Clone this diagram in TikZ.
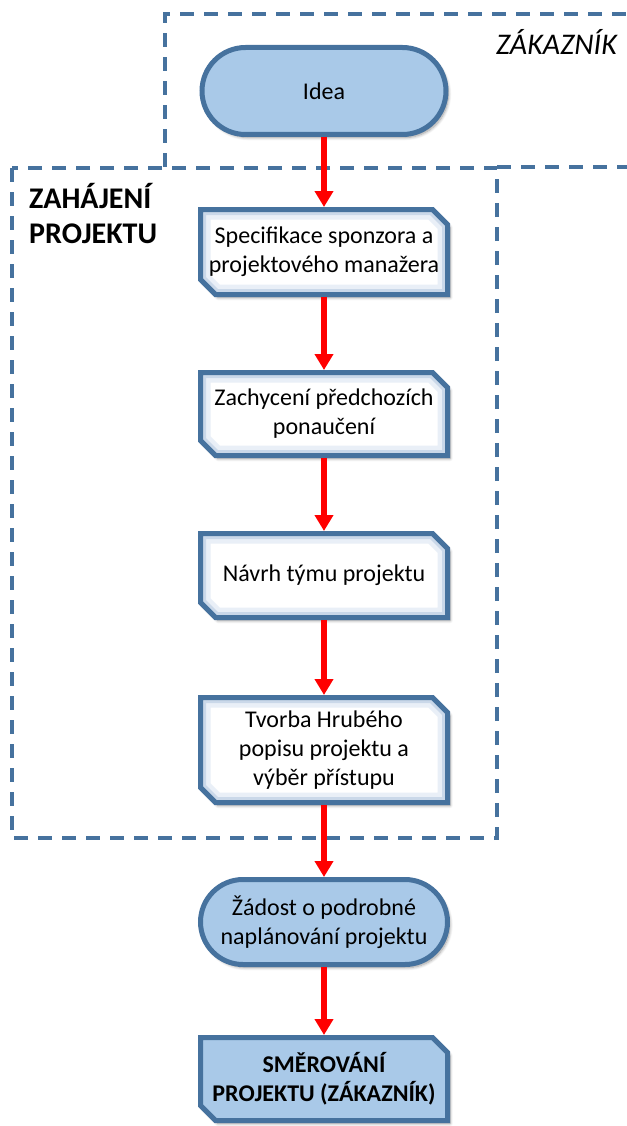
\documentclass[tikz,border=0pt]{standalone}
\usepackage{fontspec}
\setmainfont{Carlito}
\usetikzlibrary{shapes.misc, arrows.meta, shadows.blur}

\definecolor{edgeblue}{HTML}{46729E}
\definecolor{fillblue}{HTML}{A9C9E8}
\definecolor{glowblue}{HTML}{CAD8E9}
\definecolor{glowpale}{HTML}{E9EFF7}
\definecolor{flowred}{HTML}{FF0000}

% rectangle with the north east and south west corners cut off
\makeatletter
\pgfkeys{/pgf/cut size/.initial=15pt}
\newdimen\cutxa \newdimen\cutya \newdimen\cutxb \newdimen\cutyb \newdimen\cutlen
\pgfdeclareshape{cutcorner}{%
  \inheritsavedanchors[from=rectangle]%
  \inheritanchorborder[from=rectangle]%
  \inheritanchor[from=rectangle]{center}%
  \inheritanchor[from=rectangle]{north}%
  \inheritanchor[from=rectangle]{south}%
  \inheritanchor[from=rectangle]{east}%
  \inheritanchor[from=rectangle]{west}%
  \inheritanchor[from=rectangle]{north east}%
  \inheritanchor[from=rectangle]{north west}%
  \inheritanchor[from=rectangle]{south east}%
  \inheritanchor[from=rectangle]{south west}%
  \inheritanchor[from=rectangle]{base}%
  \inheritanchor[from=rectangle]{mid}%
  \backgroundpath{%
    \southwest \cutxa=\pgf@x \cutya=\pgf@y
    \northeast \cutxb=\pgf@x \cutyb=\pgf@y
    \pgfmathsetlength\pgf@xc{\pgfkeysvalueof{/pgf/outer xsep}}%
    \pgfmathsetlength\pgf@yc{\pgfkeysvalueof{/pgf/outer ysep}}%
    \advance\cutxa by \pgf@xc \advance\cutya by \pgf@yc
    \advance\cutxb by -\pgf@xc \advance\cutyb by -\pgf@yc
    \pgfmathsetlength\cutlen{\pgfkeysvalueof{/pgf/cut size}}%
    \pgfpathmoveto{\pgfpoint{\cutxa+\cutlen}{\cutya}}%
    \pgfpathlineto{\pgfpoint{\cutxb}{\cutya}}%
    \pgfpathlineto{\pgfpoint{\cutxb}{\cutyb-\cutlen}}%
    \pgfpathlineto{\pgfpoint{\cutxb-\cutlen}{\cutyb}}%
    \pgfpathlineto{\pgfpoint{\cutxa}{\cutyb}}%
    \pgfpathlineto{\pgfpoint{\cutxa}{\cutya+\cutlen}}%
    \pgfpathclose
  }%
}
\makeatother

% inner glow
\newcommand\glowoutline[2]{%
  \draw[#1, line width=#2]
    ([xshift=15pt]path picture bounding box.south west) --
    (path picture bounding box.south east) --
    ([yshift=-15pt]path picture bounding box.north east) --
    ([xshift=-15pt]path picture bounding box.north east) --
    (path picture bounding box.north west) --
    ([yshift=15pt]path picture bounding box.south west) -- cycle;}

\tikzset{
  softshadow/.style={blur shadow={shadow xshift=2.5pt, shadow yshift=-3pt,
      shadow blur radius=3pt, shadow blur steps=8, shadow opacity=40}},
  boxtext/.style={font=\fontsize{24}{29}\selectfont, align=center, text=black},
  terminal/.style={rounded rectangle, draw=edgeblue, line width=5pt,
      fill=fillblue, boxtext, softshadow, inner sep=0pt},
  procbase/.style 2 args={cutcorner, cut size=15pt, inner sep=0pt,
      draw=edgeblue, line width=5pt, boxtext,
      minimum width=#1, minimum height=#2, softshadow},
  procbox/.style 2 args={procbase={#1}{#2}, fill=white,
      path picture={\glowoutline{glowpale}{20pt}\glowoutline{glowblue}{11pt}}},
  dashbox/.style={draw=edgeblue, line width=3.5pt, dash pattern=on 14pt off 10pt},
  flow/.style={draw=flowred, line width=5.5pt,
      -{Triangle[width=18pt, length=16pt]}},
}

\begin{document}
\begin{tikzpicture}[x=1pt, y=-1pt]
  \useasboundingbox (0,0) rectangle (626,1126);

  % phase frames
  \draw[dashbox] (12,168) rectangle (497,838);
  \draw[dashbox] (165,167) -- (165,14) -- (640,14);
  \draw[dashbox] (497,167) -- (640,167);

  % frame captions
  \node[anchor=base east, font=\fontsize{30}{35}\selectfont\itshape,
        inner sep=0pt] (customer) at (617,55) {ZÁKAZNÍK};
  \node[anchor=base west, align=left, font=\fontsize{30}{35}\selectfont\bfseries,
        inner sep=0pt] (phase) at (29,243) {ZAHÁJENÍ\\PROJEKTU};

  % flow steps
  \node[terminal, minimum width=244pt, minimum height=87pt]
        (idea) at (324,91) {Idea};
  \node[procbox={247pt}{85pt}] (spec) at (324,252)
        {Specifikace sponzora a\\projektového manažera};
  \node[procbox={247pt}{83pt}] (lessons) at (324,414)
        {Zachycení předchozích\\ponaučení};
  \node[procbox={247pt}{84pt}] (team) at (324,575.5)
        {Návrh týmu projektu};
  \node[procbox={247pt}{105pt}] (outline) at (324,750)
        {Tvorba Hrubého\\popisu projektu a\\výběr přístupu};
  \node[terminal, minimum width=247pt, minimum height=85pt]
        (request) at (324,922) {Žádost o podrobné\\naplánování projektu};
  \node[procbase={247pt}{83pt}, fill=fillblue,
        font=\fontsize{24}{29}\selectfont\bfseries] (steer) at (324,1079)
        {SMĚROVÁNÍ\\PROJEKTU (ZÁKAZNÍK)};

  % connectors
  \draw[flow] (idea) -- (spec);
  \draw[flow] (spec) -- (lessons);
  \draw[flow] (lessons) -- (team);
  \draw[flow] (team) -- (outline);
  \draw[flow] (outline) -- (request);
  \draw[flow] (request) -- (steer);
\end{tikzpicture}
\end{document}
